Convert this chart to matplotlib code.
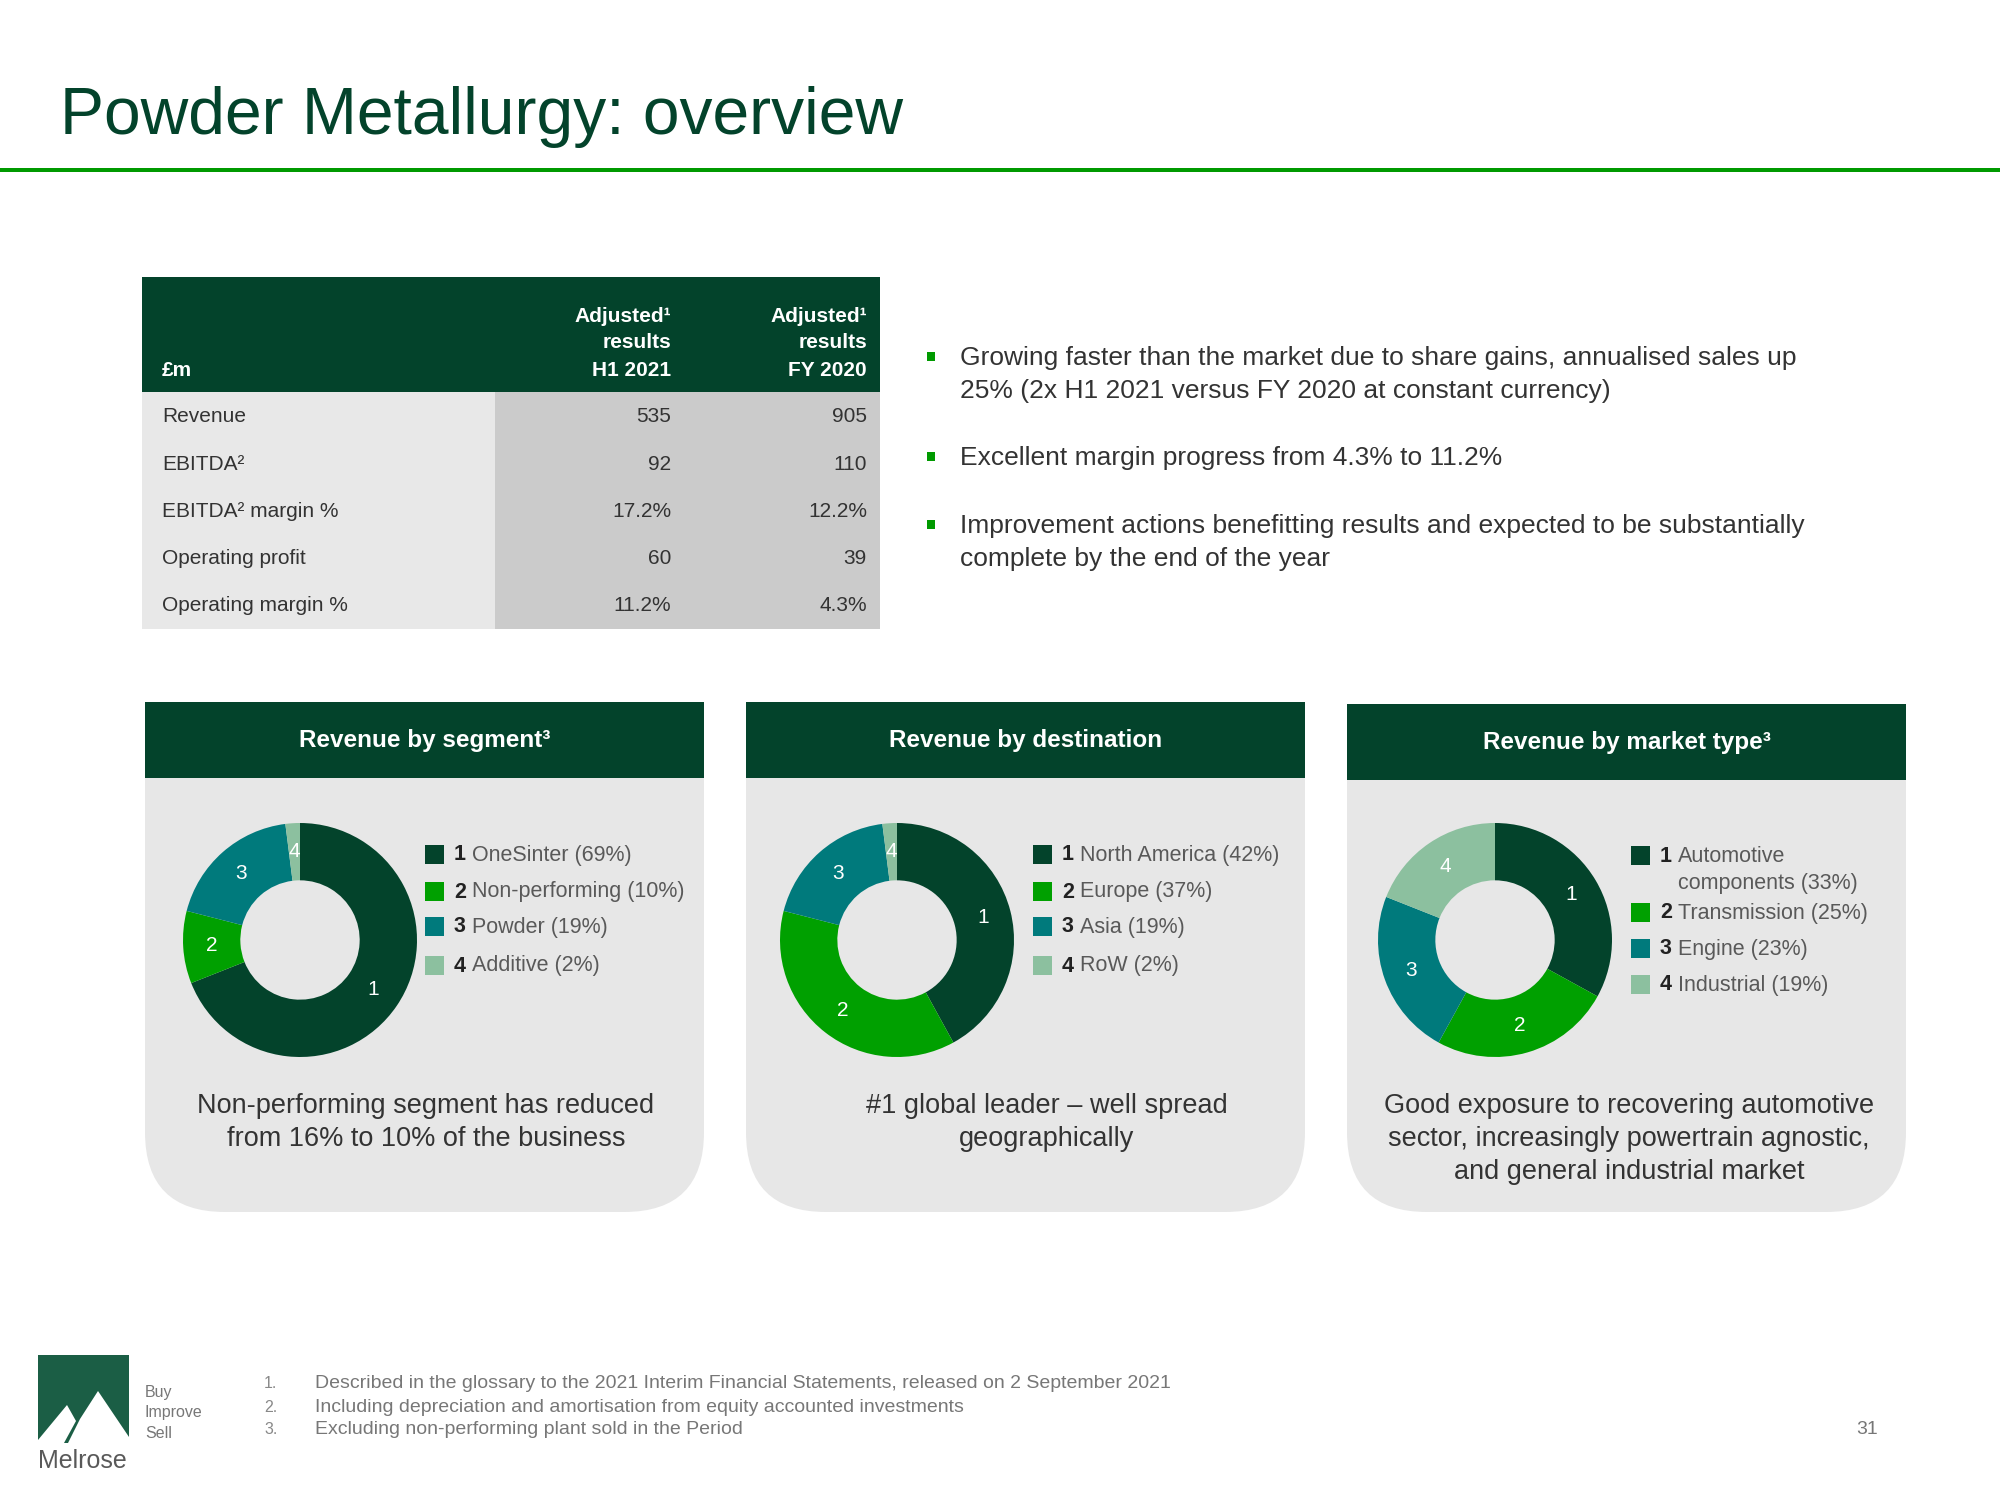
import numpy as np
import matplotlib
matplotlib.use('Agg')
import matplotlib.pyplot as plt
from matplotlib.patches import Rectangle, FancyBboxPatch, Polygon

plt.rcParams['font.family'] = ['Liberation Sans', 'DejaVu Sans']

DARK = '#03432B'
LINE_GREEN = '#009A00'
PIE_COLORS = ['#03432B', '#00A000', '#007A7C', '#8CC09F']
TXT = '#333333'
GREY = '#595959'

# table data
col_headers = ['Adjusted¹\nresults\nH1 2021', 'Adjusted¹\nresults\nFY 2020']
row_labels = ['Revenue', 'EBITDA²', 'EBITDA² margin %', 'Operating profit', 'Operating margin %']
h1_2021 = ['535', '92', '17.2%', '60', '11.2%']
fy_2020 = ['905', '110', '12.2%', '39', '4.3%']

bullets = ['Growing faster than the market due to share gains, annualised sales up\n'
           '25% (2x H1 2021 versus FY 2020 at constant currency)',
           'Excellent margin progress from 4.3% to 11.2%',
           'Improvement actions benefitting results and expected to be substantially\n'
           'complete by the end of the year']

# donut data
panel_titles = ['Revenue by segment³', 'Revenue by destination', 'Revenue by market type³']
seg_labels = ['OneSinter', 'Non-performing', 'Powder', 'Additive']
seg_values = [69, 10, 19, 2]
dest_labels = ['North America', 'Europe', 'Asia', 'RoW']
dest_values = [42, 37, 19, 2]
market_labels = ['Automotive\ncomponents', 'Transmission', 'Engine', 'Industrial']
market_values = [33, 25, 23, 19]
captions = ['Non-performing segment has reduced\nfrom 16% to 10% of the business',
            '#1 global leader \u2013 well spread\ngeographically',
            'Good exposure to recovering automotive\nsector, increasingly powertrain agnostic,\nand general industrial market']

footnotes = ['Described in the glossary to the 2021 Interim Financial Statements, released on 2 September 2021',
             'Including depreciation and amortisation from equity accounted investments',
             'Excluding non-performing plant sold in the Period']

W, H = 2000, 1500
fig = plt.figure(figsize=(20, 15), dpi=100)
ax = fig.add_axes([0, 0, 1, 1])
ax.set_xlim(0, W)
ax.set_ylim(H, 0)
ax.axis('off')

# title
ax.text(60, 134, 'Powder Metallurgy: overview', fontsize=47.5, color=DARK, va='baseline')
ax.add_patch(Rectangle((0, 168), W, 4, color=LINE_GREEN, lw=0))

# table
tx0, tx1, tsplit = 142, 880, 495
ax.add_patch(Rectangle((tx0, 277), tx1 - tx0, 115, color=DARK, lw=0))
ax.add_patch(Rectangle((tx0, 392), tsplit - tx0, 237, color='#E8E8E8', lw=0))
ax.add_patch(Rectangle((tsplit, 392), tx1 - tsplit, 237, color='#CBCBCB', lw=0))
ax.text(162, 370, '£m', fontsize=15, color='white', fontweight='bold', va='center')
for hx, head in zip([671, 867], col_headers):
    for k, line in enumerate(head.split('\n')):
        ax.text(hx, 316 + 27 * k, line, fontsize=15, color='white', fontweight='bold',
                ha='right', va='center')
for i, lab in enumerate(row_labels):
    y = 417 + 47.2 * i
    ax.text(162, y, lab, fontsize=15, color=TXT, va='center')
    ax.text(671, y, h1_2021[i], fontsize=15, color=TXT, ha='right', va='center')
    ax.text(867, y, fy_2020[i], fontsize=15, color=TXT, ha='right', va='center')

# bullets
bullet_y = [358, 458, 526]
for y, b in zip(bullet_y, bullets):
    ax.add_patch(Rectangle((927, y - 6), 8, 9, color=LINE_GREEN, lw=0))
    for k, line in enumerate(b.split('\n')):
        ax.text(960, y + 33 * k, line, fontsize=19, color=TXT, va='center')

# panels
panel_x = [145, 746, 1347]
panel_top = [702, 702, 704]
pw = 559
legend_rows = [[855, 892, 927, 966], [855, 892, 927, 966], [856, 913, 949, 985]]
centers = [300, 897, 1495]
R = 117
all_values = [seg_values, dest_values, market_values]
all_labels = [seg_labels, dest_labels, market_labels]

for p in range(3):
    x0 = panel_x[p]
    top = panel_top[p]
    ax.add_patch(FancyBboxPatch((x0, top), pw, 1212 - top,
                                boxstyle='round,pad=0,rounding_size=80',
                                fc='#E7E7E7', ec='none'))
    ax.add_patch(Rectangle((x0, top), pw, 76, color=DARK, lw=0))
    ax.text(x0 + pw / 2, top + 38, panel_titles[p], fontsize=17.5, color='white',
            fontweight='bold', ha='center', va='center')

    # donut
    cx, cy = centers[p], 940
    dax = fig.add_axes([(cx - R) / W, 1 - (cy + R) / H, 2 * R / W, 2 * R / H])
    vals = all_values[p]
    _, texts = dax.pie(vals, colors=PIE_COLORS, startangle=90, counterclock=False,
                       radius=1, labels=[str(i + 1) for i in range(len(vals))],
                       labeldistance=0.76, wedgeprops=dict(width=0.49, linewidth=0),
                       textprops=dict(color='white', fontsize=15))
    for t in texts:
        t.set_ha('center')
        t.set_va('center')
    dax.set_xlim(-1, 1)
    dax.set_ylim(-1, 1)
    dax.set_aspect('equal')
    dax.axis('off')

    # legend
    sq_x = [425, 1033, 1631][p]
    for i, lab in enumerate(all_labels[p]):
        y = legend_rows[p][i]
        ax.add_patch(Rectangle((sq_x, y - 10), 19, 19, color=PIE_COLORS[i], lw=0))
        ax.text(sq_x + 29, y, str(i + 1), fontsize=15.5, color='#222222',
                fontweight='bold', va='center')
        lines = lab.split('\n')
        lines[-1] = lines[-1] + ' (%d%%)' % vals[i]
        for k, line in enumerate(lines):
            ax.text(sq_x + 47, y + 27 * k, line, fontsize=15.5, color=GREY, va='center')

    # caption
    cap_x = [426, 1047, 1629][p]
    for k, line in enumerate(captions[p].split('\n')):
        ax.text(cap_x, 1106 + 33 * k, line, fontsize=19.5, color=TXT, ha='center', va='center')

# footer logo
ax.add_patch(Rectangle((38, 1355), 91, 88, color='#1B5E45', lw=0))
ax.add_patch(Polygon([(38, 1443), (38, 1440), (67, 1405), (76, 1421), (64, 1443)],
                     closed=True, fc='white', ec='none'))
ax.add_patch(Polygon([(68, 1443), (80, 1419), (98, 1391), (129, 1437), (129, 1443)],
                     closed=True, fc='white', ec='none'))
ax.text(38, 1461, 'Melrose', fontsize=18, color=GREY, va='center')
for k, w in enumerate(['Buy', 'Improve', 'Sell']):
    ax.text(145, 1392 + 20.5 * k, w, fontsize=11.5, color='#777777', va='center')

for k, note in enumerate(footnotes):
    y = 1384 + 23 * k
    ax.text(264, y, '%d.' % (k + 1), fontsize=11.5, color='#888888', va='center')
    ax.text(315, y, note, fontsize=14, color='#777777', va='center')

ax.text(1878, 1430, '31', fontsize=14, color='#777777', ha='right', va='center')

fig.savefig('out.png', dpi=100, facecolor='white')
